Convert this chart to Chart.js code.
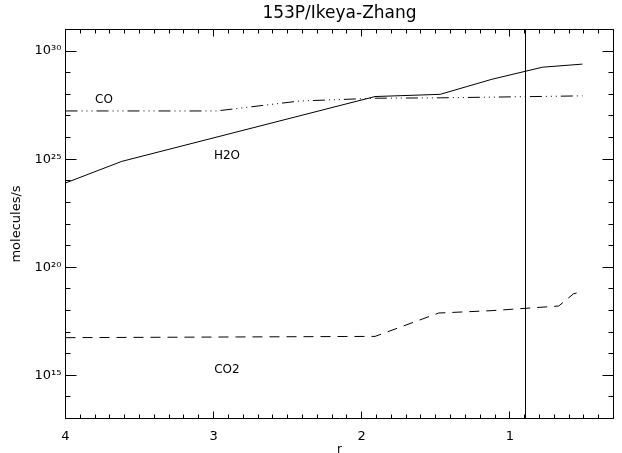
<!DOCTYPE html>
<html lang="en">
<head>
<meta charset="UTF-8">
<title>153P/Ikeya-Zhang</title>
<script src="https://cdn.jsdelivr.net/npm/chart.js"></script>
<style>
  html, body { margin: 0; padding: 0; background: #fff; }
</style>
</head>
<body>
<canvas id="chart" width="622" height="453"></canvas>
<script>
// heliocentric distance r (AU) and production rates (molecules/s)
const h2oR   = [4.0, 3.62, 1.91, 1.47, 1.12, 0.78, 0.51];
const h2oQ   = [7.9e23, 7.9e24, 7.9e27, 1.0e28, 5.0e28, 1.8e29, 2.5e29];
const coR    = [4.0, 2.98, 2.42, 1.91, 1.47, 0.89, 0.51];
const coQ    = [1.7e27, 1.7e27, 4.9e27, 6.6e27, 6.9e27, 7.8e27, 8.5e27];
const co2R   = [4.0, 1.91, 1.48, 1.12, 0.67, 0.57, 0.51];
const co2Q   = [5.5e16, 6.3e16, 7.6e17, 9.8e17, 1.6e18, 5.9e18, 7.4e18];
const markerR = 0.894;

const xRange = [0.3, 4];
const yRange = [1e13, 1e31];
const xTickLabels = [4, 3, 2, 1];
const yTickExps = [15, 20, 25, 30];

// where the species names sit (r, molecules/s)
const seriesNames = ['CO', 'H2O', 'CO2'];
const nameR = [3.74, 2.91, 2.91];
const nameQ = [5.8e27, 1.35e25, 1.7e15];

const SUP = { '0': '\u2070', '1': '\u00b9', '2': '\u00b2', '3': '\u00b3', '4': '\u2074',
              '5': '\u2075', '6': '\u2076', '7': '\u2077', '8': '\u2078', '9': '\u2079' };
function sup(n) { return String(n).split('').map(c => SUP[c]).join(''); }

function pts(xs, ys) { return xs.map((x, i) => ({ x: x, y: ys[i] })); }

const FONT = '"DejaVu Sans", sans-serif';

// box round the plot, ticks pointing inward, title and species names
const framePlugin = {
  id: 'frame',
  afterDraw(chart) {
    const { ctx, chartArea: a, scales: { x, y } } = chart;
    const L = Math.floor(a.left) + 0.5, R = Math.floor(a.right) + 0.5;
    const T = Math.floor(a.top) + 0.5, B = Math.floor(a.bottom) + 0.5;
    ctx.save();
    ctx.strokeStyle = '#000';
    ctx.lineWidth = 1;
    ctx.beginPath();
    ctx.rect(L, T, R - L, B - T);

    // x ticks every 0.1, longer at whole numbers
    for (let k = Math.round(xRange[0] * 10); k <= Math.round(xRange[1] * 10); k++) {
      const px = Math.floor(x.getPixelForValue(k / 10)) + 0.5;
      const len = (k % 10 === 0) ? 7 : 4;
      ctx.moveTo(px, B); ctx.lineTo(px, B - len);
      ctx.moveTo(px, T); ctx.lineTo(px, T + len);
    }
    // y ticks every decade, longer every 5 decades
    for (let e = 13; e <= 31; e++) {
      const py = Math.floor(y.getPixelForValue(Math.pow(10, e))) + 0.5;
      const len = (e % 5 === 0) ? 11 : 5;
      ctx.moveTo(L, py); ctx.lineTo(L + len, py);
      ctx.moveTo(R, py); ctx.lineTo(R - len, py);
    }
    ctx.stroke();

    ctx.fillStyle = '#000';
    ctx.textAlign = 'center';
    ctx.textBaseline = 'middle';
    ctx.font = '17px ' + FONT;
    ctx.fillText('153P/Ikeya-Zhang', (a.left + a.right) / 2, 14);

    ctx.font = '12px ' + FONT;
    seriesNames.forEach((name, i) => {
      ctx.fillText(name, x.getPixelForValue(nameR[i]), y.getPixelForValue(nameQ[i]));
    });
    ctx.restore();
  }
};

const ctx = document.getElementById('chart').getContext('2d');
new Chart(ctx, {
  type: 'line',
  data: {
    datasets: [
      { label: 'H2O', data: pts(h2oR, h2oQ), borderColor: '#000', borderWidth: 1 },
      { label: 'CO', data: pts(coR, coQ), borderColor: '#000', borderWidth: 1,
        borderDash: [12, 4, 1, 4, 1, 4, 1, 4] },
      { label: 'CO2', data: pts(co2R, co2Q), borderColor: '#000', borderWidth: 1,
        borderDash: [10, 7] },
      { label: 'r', data: pts([markerR, markerR], yRange), borderColor: '#000', borderWidth: 1 }
    ]
  },
  options: {
    responsive: false,
    animation: false,
    devicePixelRatio: 1,
    layout: { padding: { top: 29.5, right: 8.5, left: 0, bottom: 0 } },
    elements: { point: { radius: 0 }, line: { tension: 0 } },
    plugins: { legend: { display: false }, tooltip: { enabled: false } },
    scales: {
      x: {
        type: 'linear',
        reverse: true,
        min: xRange[0],
        max: xRange[1],
        grid: { display: false, drawTicks: false },
        border: { display: false },
        afterBuildTicks: s => { s.ticks = xTickLabels.map(v => ({ value: v })); },
        afterFit: s => { s.height = 34.5; s.paddingLeft = 0; s.paddingRight = 0; },
        ticks: {
          color: '#000',
          font: { family: FONT, size: 13 },
          padding: 10,
          maxRotation: 0,
          autoSkip: false,
          callback: v => String(v)
        },
        title: {
          display: true,
          text: 'r',
          color: '#000',
          font: { family: FONT, size: 12 },
          padding: { top: 0, bottom: -4 }
        }
      },
      y: {
        type: 'logarithmic',
        min: yRange[0],
        max: yRange[1],
        grid: { display: false, drawTicks: false },
        border: { display: false },
        afterBuildTicks: s => { s.ticks = yTickExps.map(e => ({ value: Math.pow(10, e) })); },
        afterFit: s => { s.width = 65.5; s.paddingTop = 0; s.paddingBottom = 0; },
        ticks: {
          color: '#000',
          font: { family: FONT, size: 13 },
          padding: 4,
          autoSkip: false,
          callback: v => '10' + sup(Math.round(Math.log10(v)))
        },
        title: {
          display: true,
          text: 'molecules/s',
          color: '#000',
          font: { family: FONT, size: 13 },
          padding: { top: 9 }
        }
      }
    }
  },
  plugins: [framePlugin]
});
</script>
</body>
</html>
